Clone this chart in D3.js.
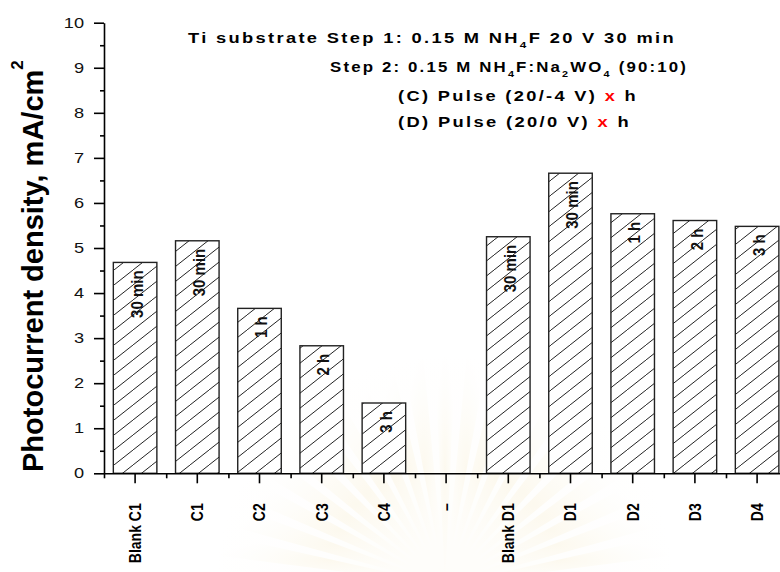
<!DOCTYPE html>
<html>
<head>
<meta charset="utf-8">
<script src="https://cdn.jsdelivr.net/npm/d3@7"></script>
<style>
  html, body { margin: 0; padding: 0; background: #fff; }
  svg { display: block; font-family: Arial, "Liberation Sans", sans-serif; }
</style>
</head>
<body>
<svg id="chart" width="780" height="572"></svg>
<script>
// Samples along the x axis ("–" is an empty separator slot)
const categories = ["Blank C1", "C1", "C2", "C3", "C4", "–", "Blank D1", "D1", "D2", "D3", "D4"];
// Photocurrent density, mA/cm^2
const photocurrent = [4.68, 5.16, 3.66, 2.83, 1.56, null, 5.25, 6.66, 5.76, 5.61, 5.48];
// Anodization time written inside each bar
const durations = ["30 min", "30 min", "1 h", "2 h", "3 h", "", "30 min", "30 min", "1 h", "2 h", "3 h"];
// Y axis ticks
const yTicks = [0, 1, 2, 3, 4, 5, 6, 7, 8, 9, 10];
const yMinorTicks = [0.5, 1.5, 2.5, 3.5, 4.5, 5.5, 6.5, 7.5, 8.5, 9.5];

const svg = d3.select("#chart");
const plot = { left: 104, right: 788.2, top: 22.7, bottom: 473.3 };

const x = d3.scaleBand()
  .domain(categories)
  .range([plot.left, plot.right])
  .paddingInner(0.3)
  .paddingOuter(0.15);

const slot = d3.scaleLinear()
  .domain([0, categories.length])
  .range([plot.left, plot.right]);

const y = d3.scaleLinear().domain([0, 10]).range([plot.bottom, plot.top]);

const defs = svg.append("defs");

// Faint emblem-like watermark in the background
const glow = defs.append("radialGradient").attr("id", "glow")
  .attr("cx", 0.5).attr("cy", 0.5).attr("r", 0.5);
glow.append("stop").attr("offset", "0%").attr("stop-color", "#f3e2ad").attr("stop-opacity", 0.6);
glow.append("stop").attr("offset", "100%").attr("stop-color", "#fbf3da").attr("stop-opacity", 0);
const rays = svg.append("g").attr("transform", "translate(445,585)").attr("opacity", 0.32);
const rayAngles = d3.range(-170, -9, 8);
rays.selectAll("path").data(rayAngles).join("path")
  .attr("d", a => {
    const r = 230, w = 2.6;
    const a0 = (a - w) * Math.PI / 180, a1 = (a + w) * Math.PI / 180;
    return `M0,0L${r * Math.cos(a0)},${r * Math.sin(a0)}L${r * Math.cos(a1)},${r * Math.sin(a1)}Z`;
  })
  .attr("fill", "url(#glow)");
rays.append("circle").attr("r", 230).attr("fill", "url(#glow)").attr("opacity", 0.35);

// Diagonal hatch fill
const pat = defs.append("pattern")
  .attr("id", "hatch")
  .attr("patternUnits", "userSpaceOnUse")
  .attr("width", 19).attr("height", 15);
pat.append("rect").attr("width", 19).attr("height", 15).attr("fill", "#fff");
pat.append("path")
  .attr("d", "M-1.9,16.5L20.9,-1.5")
  .attr("stroke", "#222").attr("stroke-width", 1);

// Bars
const rows = categories.map((c, i) => ({ c, v: photocurrent[i], t: durations[i] }))
  .filter(d => d.v != null);

svg.append("g").selectAll("rect").data(rows).join("rect")
  .attr("x", d => x(d.c))
  .attr("y", d => y(d.v))
  .attr("width", x.bandwidth())
  .attr("height", d => y(0) - y(d.v))
  .attr("fill", "url(#hatch)")
  .attr("stroke", "#222")
  .attr("stroke-width", 1.4);

// Duration labels inside bars
svg.append("g").selectAll("text").data(rows).join("text")
  .attr("transform", d => `translate(${x(d.c) + x.bandwidth() / 2},${y(d.v) + 8}) rotate(-90) scale(1,1.08)`)
  .attr("text-anchor", "end")
  .attr("dy", "0.48em")
  .attr("font-size", 15)
  .attr("font-weight", "bold")
  .attr("fill", "#111")
  .text(d => d.t);

// X axis: major ticks at bar centres, minor ticks between slots
const xAxis = svg.append("g")
  .attr("transform", `translate(0,${plot.bottom})`)
  .call(d3.axisBottom(x).tickSize(10).tickSizeOuter(0));
xAxis.selectAll("text")
  .attr("transform", "rotate(-90) scale(1,1.15)")
  .attr("text-anchor", "end")
  .attr("x", -30)
  .attr("y", 0)
  .attr("dy", "0.36em")
  .attr("font-size", 14)
  .attr("font-weight", "bold")
  .attr("font-family", "Arial, 'Liberation Sans', sans-serif")
  .attr("fill", "#000");

svg.append("g")
  .attr("transform", `translate(0,${plot.bottom})`)
  .call(d3.axisBottom(slot).tickValues(d3.range(0, categories.length + 1)).tickSize(5).tickFormat(""))
  .select(".domain").remove();

// Y axis
const yStretch = 1.3;
const yAxis = svg.append("g")
  .attr("transform", `translate(${plot.left},0)`)
  .call(d3.axisLeft(y).tickValues(yTicks).tickSize(10).tickPadding(9).tickSizeOuter(0));
yAxis.selectAll("text")
  .attr("x", -20 / yStretch)
  .attr("transform", `scale(${yStretch},1)`)
  .attr("font-size", 14)
  .attr("font-family", "Arial, 'Liberation Sans', sans-serif")
  .attr("fill", "#111");

svg.append("g")
  .attr("transform", `translate(${plot.left},0)`)
  .call(d3.axisLeft(y).tickValues(yMinorTicks).tickSize(4).tickFormat(""))
  .select(".domain").remove();

svg.selectAll(".domain").attr("stroke", "#000").attr("stroke-width", 1.6);
svg.selectAll(".tick line").attr("stroke", "#000").attr("stroke-width", 1.6);

// Y axis title
const yTitle = svg.append("text")
  .attr("transform", `translate(43,472) rotate(-90)`)
  .attr("text-anchor", "start")
  .attr("font-size", 29)
  .attr("font-weight", "bold")
  .attr("fill", "#000");
yTitle.append("tspan").text("Photocurrent density, mA/cm");
yTitle.append("tspan").attr("font-size", 17).attr("dy", -20).text("2");

// Condition notes
const notes = svg.append("g")
  .attr("font-size", 14)
  .attr("font-weight", "bold")
  .attr("letter-spacing", "1.8px")
  .attr("fill", "#000");

function note(xPos, yPos, width, parts) {
  const t = notes.append("text").attr("x", xPos).attr("y", yPos)
    .attr("textLength", width).attr("lengthAdjust", "spacingAndGlyphs");
  parts.forEach(p => {
    const s = t.append("tspan").text(p.s);
    if (p.sub) s.attr("font-size", 9).attr("dy", 4.5);
    if (p.back) s.attr("dy", -4.5);
    if (p.red) s.attr("fill", "#f00");
  });
}
note(188, 43, 488, [
  { s: "Ti substrate  Step 1: 0.15 M NH" }, { s: "4", sub: true }, { s: "F 20 V 30 min", back: true }
]);
note(330, 72, 358, [
  { s: "Step 2: 0.15 M NH" }, { s: "4", sub: true }, { s: "F:Na", back: true },
  { s: "2", sub: true }, { s: "WO", back: true }, { s: "4", sub: true }, { s: " (90:10)", back: true }
]);
note(398, 101, 240, [
  { s: "(C) Pulse (20/-4 V) " }, { s: "x", red: true }, { s: " h" }
]);
note(398, 127, 233, [
  { s: "(D) Pulse (20/0 V) " }, { s: "x", red: true }, { s: " h" }
]);
</script>
</body>
</html>
